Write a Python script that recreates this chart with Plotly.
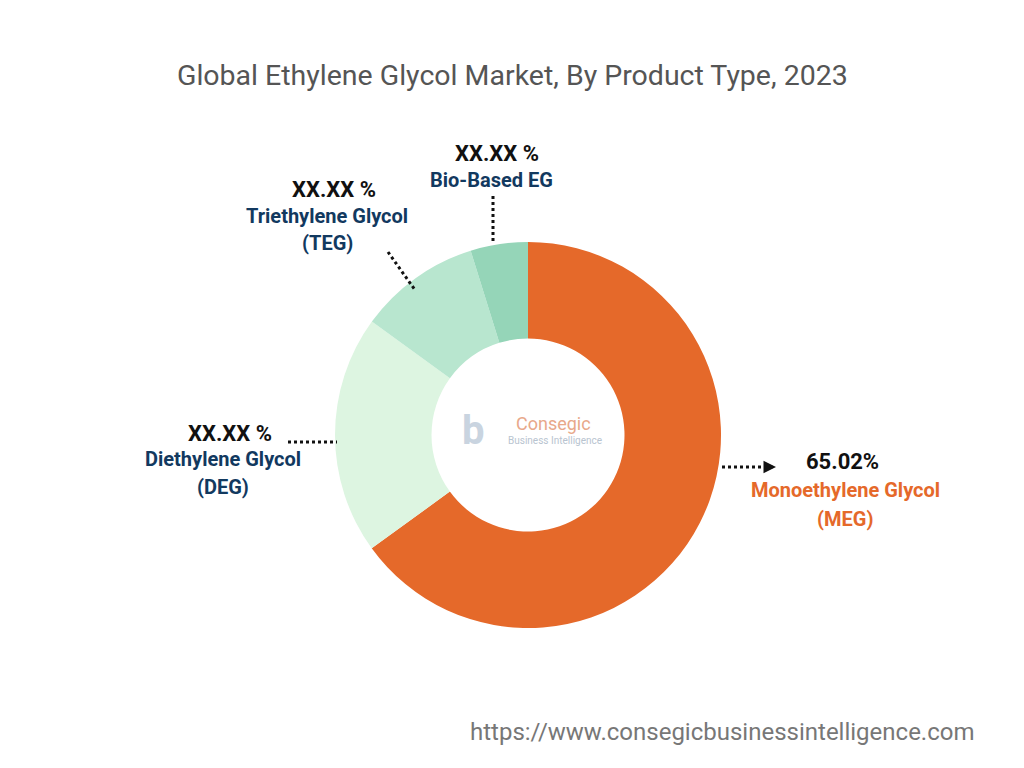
import plotly.graph_objects as go

W, H = 1024, 768

segments = ["Monoethylene Glycol (MEG)", "Diethylene Glycol (DEG)",
            "Triethylene Glycol (TEG)", "Bio-Based EG"]
shares = [65.02, 19.98, 10.2, 4.8]
colors = ["#E5692A", "#DDF5E1", "#B8E6CF", "#95D5B8"]


def px(x, y):
    # page has an 8px body margin, so shift everything back
    return (x - 8) / W, 1 - (y - 8) / H


fig = go.Figure()
x0, y0 = px(335, 628)
x1, y1 = px(721, 242)
fig.add_trace(go.Pie(
    labels=segments, values=shares, hole=0.5, sort=False,
    direction="clockwise", rotation=0,
    marker=dict(colors=colors, line=dict(width=0)),
    textinfo="none", hoverinfo="label+percent",
    domain=dict(x=[x0, x1], y=[y0, y1]),
))

ann = []


def text(x, y, t, size, color, bold=True):
    xx, yy = px(x, y)
    ann.append(dict(x=xx, y=yy, xref="paper", yref="paper", xanchor="center", yanchor="middle",
                    text=f"<b>{t}</b>" if bold else t,
                    showarrow=False, font=dict(family="Roboto", size=size, color=color)))


navy = "#12395F"
orange = "#E5692A"
text(512, 76, "Global Ethylene Glycol Market, By Product Type, 2023", 28.5, "#555555", bold=False)
text(497, 154, "XX.XX %", 22, "#111111")
text(491, 180, "Bio-Based EG", 20, navy)
text(334, 190, "XX.XX %", 22, "#111111")
text(327, 216, "Triethylene Glycol", 20, navy)
text(327, 243, "(TEG)", 20, navy)
text(230, 433, "XX.XX %", 22, "#111111")
text(223, 459, "Diethylene Glycol", 20, navy)
text(223, 487, "(DEG)", 20, navy)
text(842, 461, "65.02%", 22, "#111111")
text(845, 490, "Monoethylene Glycol", 20, orange)
text(845, 519, "(MEG)", 20, orange)
text(722, 732, "https://www.consegicbusinessintelligence.com", 24, "#777777", bold=False)
text(553, 423, "Consegic", 18, "#E8A88A", bold=False)
text(555, 440, "Business Intelligence", 10, "#B8C4D0", bold=False)
text(473, 430, "b", 40, "#C9D4E0")

shapes = []


def dotted(xa, ya, xb, yb):
    a, b = px(xa, ya), px(xb, yb)
    shapes.append(dict(type="line", xref="paper", yref="paper", x0=a[0], y0=a[1], x1=b[0], y1=b[1],
                       line=dict(color="#111111", width=3, dash="dot")))


dotted(493, 196, 493, 244)
dotted(388, 252, 415, 290)
dotted(288, 442, 337, 442)
dotted(722, 467, 768, 467)
a = px(776, 467)
ann.append(dict(x=a[0], y=a[1], ax=-12, ay=0, xref="paper", yref="paper",
                text="", showarrow=True, arrowhead=2, arrowsize=1, arrowwidth=2.5, arrowcolor="#111111"))

fig.update_layout(width=W, height=H, margin=dict(l=0, r=0, t=0, b=0), showlegend=False,
                  paper_bgcolor="white", annotations=ann, shapes=shapes)
fig.write_html("out.html")
